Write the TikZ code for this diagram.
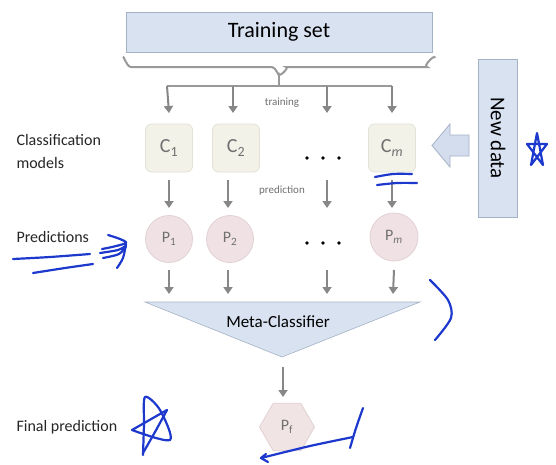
\documentclass[tikz,border=0pt]{standalone}
\usepackage{fontspec}
\setmainfont{Carlito}
\usetikzlibrary{arrows.meta,shapes.geometric}

\definecolor{tsfill}{RGB}{216,226,241}
\definecolor{tsdraw}{RGB}{165,178,198}
\definecolor{cfill}{RGB}{242,242,233}
\definecolor{cdraw}{RGB}{226,226,214}
\definecolor{pfill}{RGB}{240,226,228}
\definecolor{pdraw}{RGB}{226,208,212}
\definecolor{flowgray}{RGB}{135,135,135}
\definecolor{labelgray}{RGB}{112,112,112}
\definecolor{inkblue}{RGB}{28,56,205}

\tikzset{
  flow/.style={draw=flowgray, line width=2pt, -{Triangle[length=7pt,width=9pt]}},
  bracket/.style={draw=flowgray!85, line width=2pt},
  bluebox/.style={draw=tsdraw, fill=tsfill, line width=1pt},
  modelbox/.style={draw=cdraw, fill=cfill, line width=0.8pt, rounded corners=6pt,
    minimum width=47pt, minimum height=48pt, inner sep=0pt, text=labelgray,
    font=\fontsize{20}{22}\selectfont},
  predcircle/.style={circle, draw=pdraw, fill=pfill, line width=0.8pt,
    minimum size=47pt, inner sep=0pt, text=labelgray, font=\fontsize{16}{19}\selectfont},
  sidelabel/.style={anchor=west, align=left, text=black!85, font=\fontsize{16}{23}\selectfont},
  smalllabel/.style={text=labelgray, font=\fontsize{11}{13}\selectfont},
  dotrow/.style={circle, fill=black, minimum size=3.6pt, inner sep=0pt},
  ink/.style={draw=inkblue, line width=2.2pt, line cap=round, line join=round},
}

\begin{document}
\begin{tikzpicture}[x=1pt, y=-1pt]
\useasboundingbox[fill=white] (0,0) rectangle (556,464);

% training set bar
\node[bluebox, minimum width=306pt, minimum height=40pt, inner sep=0pt,
  font=\fontsize{22}{26}\selectfont] (train) at (279,32) {Training set};

% curly bracket below the training set
\draw[bracket] (123,58) to[out=90,in=180] (131,67) -- (272,67)
  to[out=0,in=-90] (279,74) to[out=-90,in=0] (286,67) -- (427,67)
  to[out=180,in=90] (435,58);
\coordinate (stem) at (279,74);
\coordinate (hub) at (279,86);
\draw[bracket] (stem) -- (hub);
\draw[bracket] (167,86) -- (392,86);

% classification models
\node[modelbox] (C1) at (169,148) {C\textsubscript{1}};
\node[modelbox] (C2) at (236,148) {C\textsubscript{2}};
\node[modelbox] (Cm) at (392,148) {C\textsubscript{\itshape m}};
\coordinate (C3) at (327,113);

% predictions
\node[predcircle] (P1) at (169,239) {P\textsubscript{1}};
\node[predcircle] (P2) at (230,239) {P\textsubscript{2}};
\node[predcircle, minimum size=48pt] (Pm) at (394,237) {P\textsubscript{\itshape m}};

% ellipsis dots
\foreach \x [count=\i] in {307,323,339}{
  \node[dotrow] (dc\i) at (\x,158) {};
  \node[dotrow] (dp\i) at (\x,243) {};
}

% training arrows
\coordinate (t1) at (167,86);
\coordinate (t2) at (233,86);
\coordinate (t3) at (327,86);
\coordinate (t4) at (392,86);
\draw[flow] (t1) -- (C1.north |- 0,113);
\draw[flow] (t2) -- (233,113);
\draw[flow] (t3) -- (C3);
\draw[flow] (t4) -- (Cm.north |- 0,113);
\node[smalllabel] (trainlbl) at (282,103) {training};

% prediction arrows
\coordinate (u3) at (327,180);
\coordinate (v3) at (327,208);
\draw[flow] (C1.south |- 0,180) -- (169,208);
\draw[flow] (228,180) -- (228,208);
\draw[flow] (u3) -- (v3);
\draw[flow] (Cm.south |- 0,180) -- (392,208);
\node[smalllabel] (predlbl) at (282,191) {prediction};

% meta-classifier
\coordinate (mL) at (145,302);
\coordinate (mR) at (420,302);
\coordinate (mB) at (282,357);
\draw[bluebox, line width=0.6pt] (mL) -- (mR) -- (mB) -- cycle;
\node[font=\fontsize{17}{20}\selectfont] (meta) at (278,322) {Meta-Classifier};

\coordinate (w3) at (327,270);
\draw[flow] (P1.south |- 0,270) -- (169,294);
\draw[flow] (228,270) -- (228,294);
\draw[flow] (w3) -- (327,294);
\draw[flow] (Pm.south |- 0,270) -- (393,294);

% final prediction
\node[regular polygon, regular polygon sides=6, minimum size=55pt, inner sep=0pt,
  draw=pdraw, fill=pfill!85!cfill, line width=0.8pt, text=labelgray,
  font=\fontsize{16}{19}\selectfont] (Pf) at (287,427) {P\textsubscript{f}};
\coordinate (apex) at (283,367);
\draw[flow] (apex) -- (283,397);

% new data input
\node[bluebox, minimum width=39pt, minimum height=158pt, inner sep=0pt] (newdata) at (498,138) {};
\node[rotate=-90, font=\fontsize{21}{24}\selectfont] (ndlbl) at (newdata.center) {New data};
\draw[draw=tsdraw, fill=tsfill!90!tsdraw, line width=0.8pt]
  (469,135) -- (450,135) -- (450,124) -- (432,145.5) -- (450,167) -- (450,156) -- (469,156) -- cycle;

% row labels
\node[sidelabel] (lblC) at (13,151) {Classification\\models};
\node[sidelabel] (lblP) at (13,237) {Predictions};
\node[sidelabel] (lblF) at (13,427) {Final prediction};

% hand-drawn annotation strokes
\draw[ink] plot[smooth] coordinates {(13,259) (50,257) (90,254)};
\draw[ink] plot[smooth] coordinates {(33,273) (65,268) (93,264)};
\draw[ink] plot[smooth] coordinates {(108,235) (120,239) (126,243) (112,247) (102,249)};
\draw[ink] plot[smooth] coordinates {(100,253) (118,250) (126,246) (119,254) (103,258)};
\draw[ink] plot[smooth] coordinates {(117,268) (123,258) (126,244)};
\draw[ink] plot[smooth] coordinates {(375,177) (393,174) (412,174)};
\draw[ink] plot[smooth] coordinates {(377,185) (397,183) (417,183)};
\draw[ink] (537,133) -- (531,165) -- (547,144) -- (527,144) -- (543,165) -- cycle;
\draw[ink] plot[smooth] coordinates {(430,280) (448,300) (451,318) (435,340)};
\draw[ink] plot[smooth] coordinates {(143,455) (144,425) (145,397) (160,410) (170,440) (132,430)};
\draw[ink] plot[smooth] coordinates {(132,430) (167,410)};
\draw[ink] plot[smooth] coordinates {(167,410) (155,432) (143,453)};
\draw[ink] (268,462) -- (261,458) -- (266,454);
\draw[ink] plot[smooth] coordinates {(261,458) (310,446) (353,437)};
\draw[ink] plot[smooth] coordinates {(363,408) (356,428) (350,448)};
\end{tikzpicture}
\end{document}
